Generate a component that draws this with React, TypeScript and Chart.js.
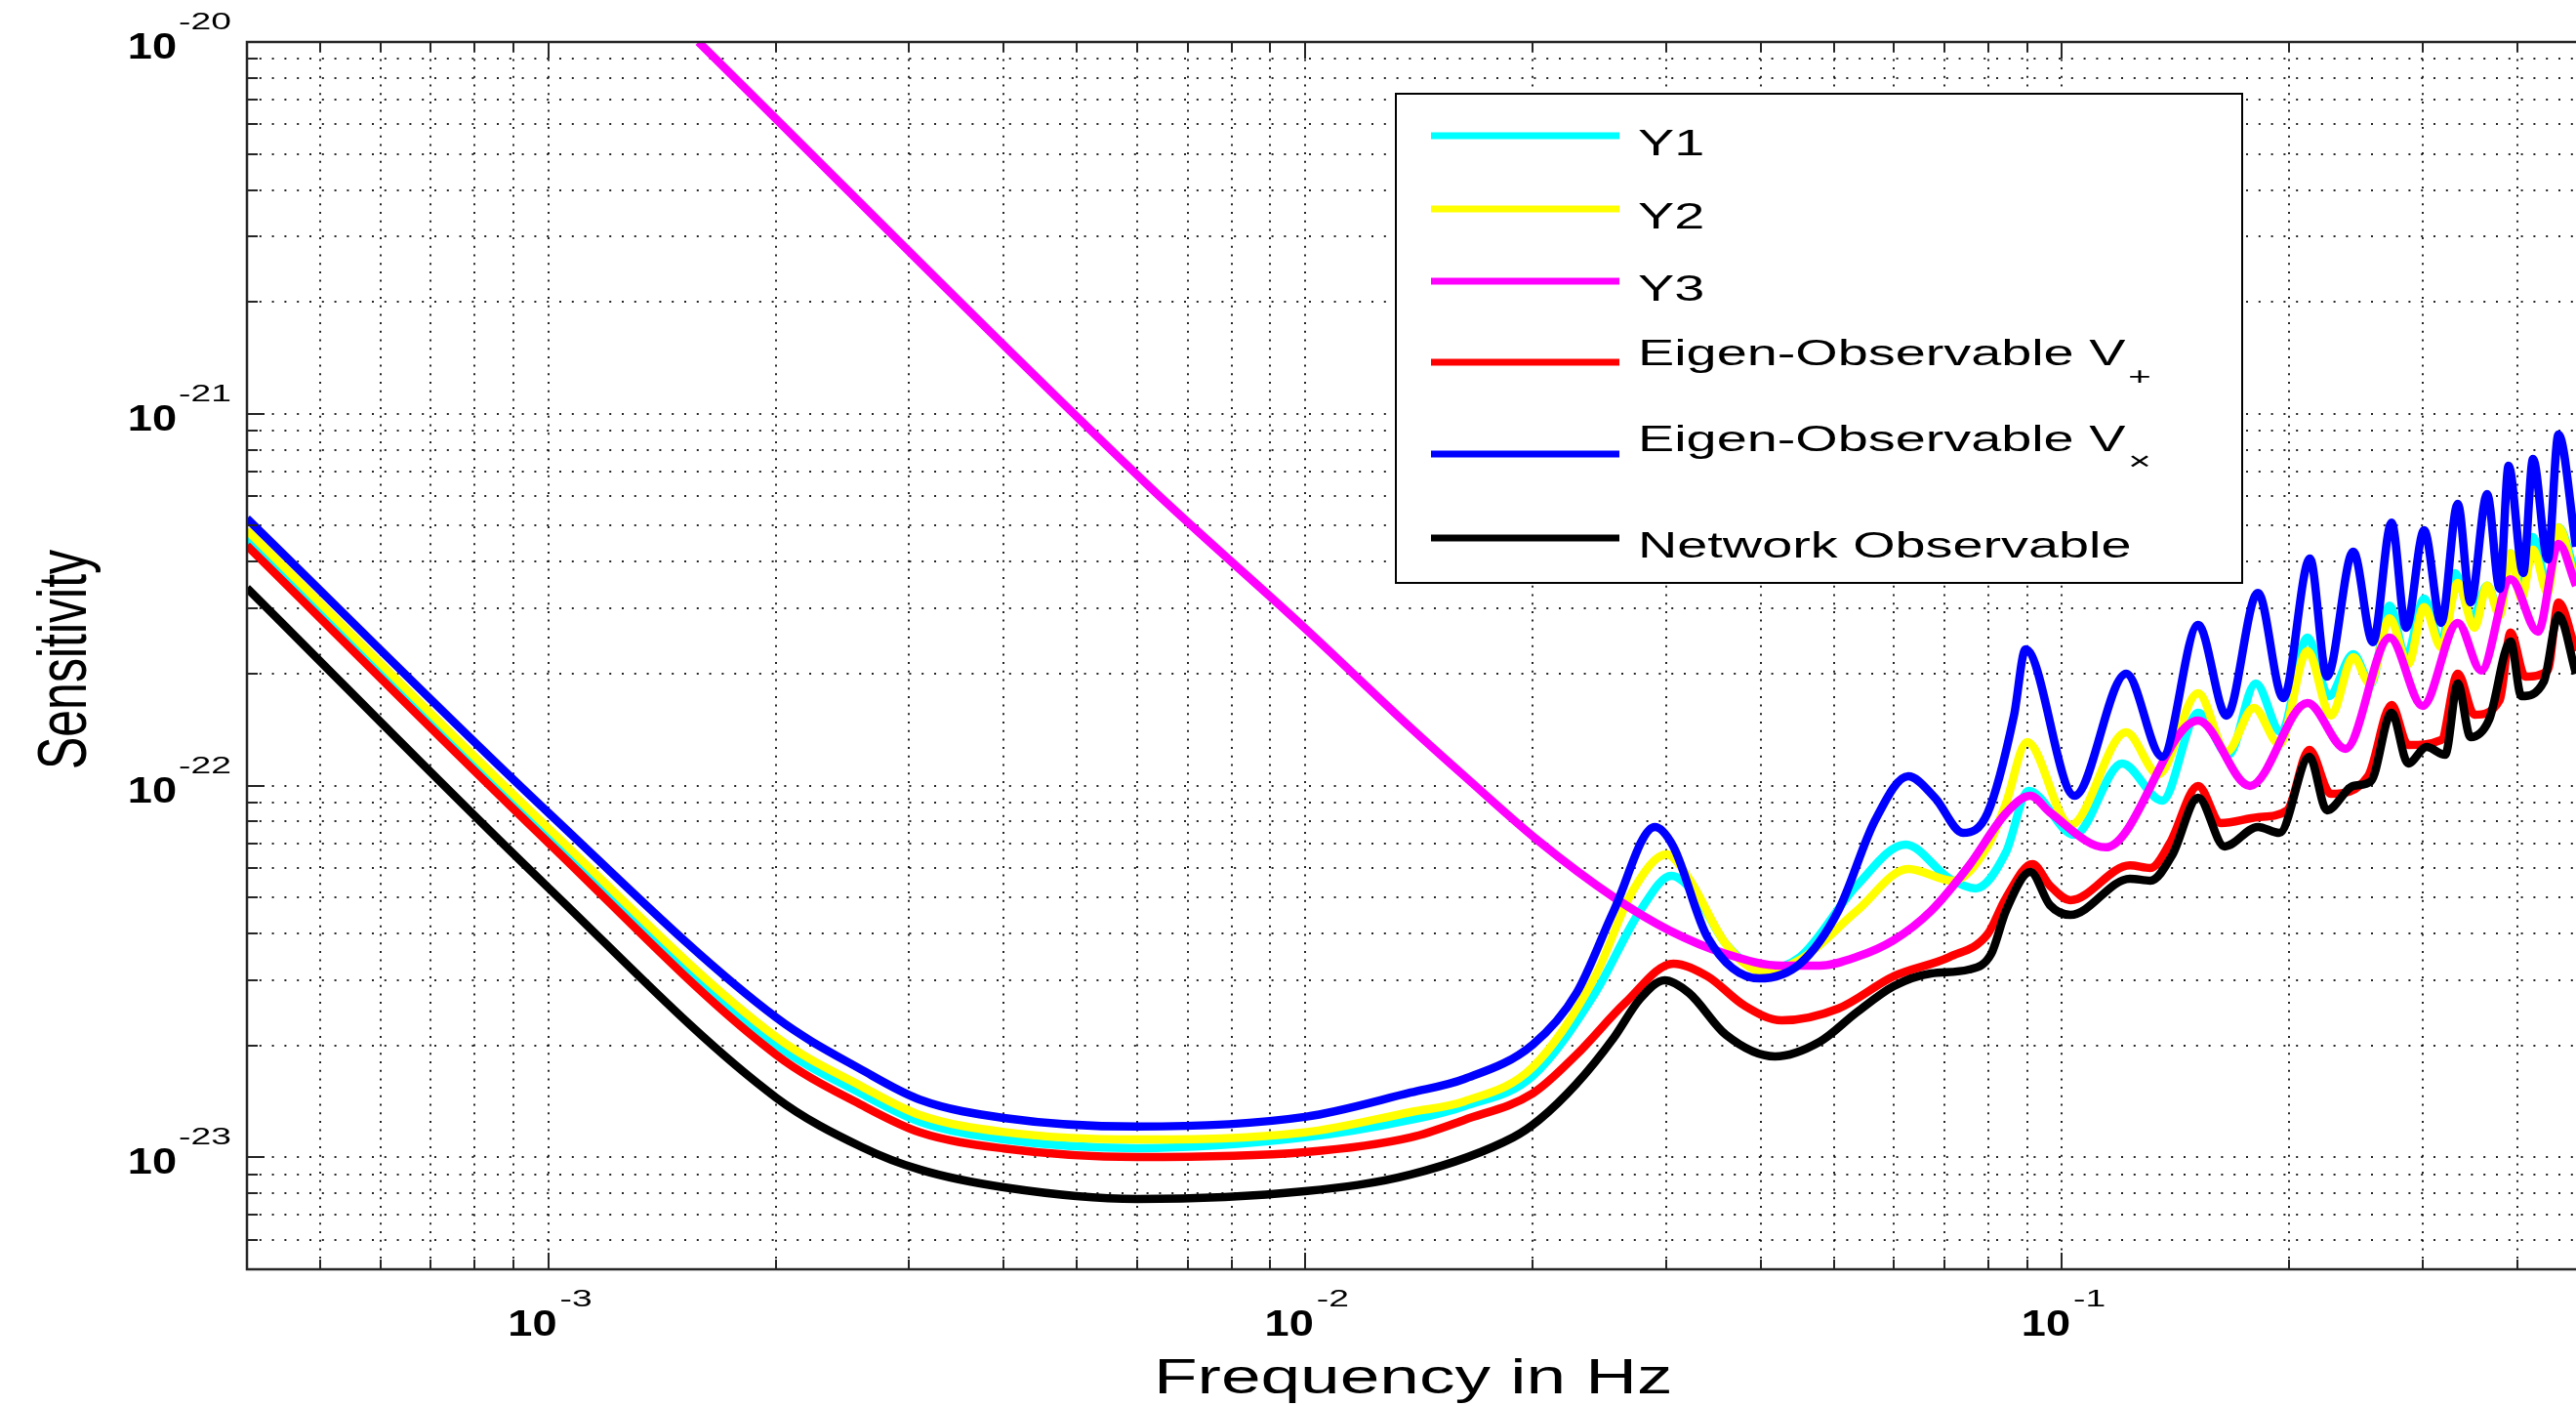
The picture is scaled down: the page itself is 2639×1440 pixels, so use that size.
import React, { useEffect, useRef } from 'react';
import { Chart, registerables } from 'chart.js';

Chart.register(...registerables);

// ---------------- data ----------------
const y1Freq = [4.0e-4, 1.0e-3, 2.0e-3, 2.6e-3, 3.1e-3, 4.0e-3, 6.0e-3, 1.0e-2, 1.38e-2, 1.625e-2, 2.0e-2, 2.419e-2, 2.773e-2, 3.05e-2, 3.285e-2, 3.602e-2, 4.03e-2, 4.512e-2, 5.36e-2, 6.22e-2, 7.11e-2, 7.7e-2, 8.44e-2, 9.04e-2, 0.104, 0.1202, 0.1358, 0.1515, 0.1662, 0.1805, 0.195, 0.2113, 0.2255, 0.2429, 0.2563, 0.2713, 0.2852, 0.3013, 0.3174, 0.331, 0.349, 0.365, 0.3793, 0.392, 0.405, 0.4197, 0.4389, 0.4535, 0.4783];
const y1Sens = [4.63e-22, 7.38e-23, 2.01e-23, 1.48e-23, 1.247e-23, 1.117e-23, 1.059e-23, 1.132e-23, 1.262e-23, 1.373e-23, 1.656e-23, 2.77e-23, 4.6e-23, 5.72e-23, 5.07e-23, 3.745e-23, 3.2e-23, 3.46e-23, 5.38e-23, 6.94e-23, 5.62e-23, 5.29e-23, 6.61e-23, 9.68e-23, 7.37e-23, 1.147e-22, 9.11e-23, 1.57e-22, 1.21e-22, 1.882e-22, 1.39e-22, 2.5e-22, 1.74e-22, 2.257e-22, 1.882e-22, 3.05e-22, 2.216e-22, 3.185e-22, 2.397e-22, 3.73e-22, 2.82e-22, 3.45e-22, 2.93e-22, 4.21e-22, 3.3e-22, 4.66e-22, 3.45e-22, 4.95e-22, 3.66e-22];

const y2Freq = [4.0e-4, 1.0e-3, 2.0e-3, 2.6e-3, 3.1e-3, 4.0e-3, 6.0e-3, 1.0e-2, 1.38e-2, 1.625e-2, 2.0e-2, 2.419e-2, 2.708e-2, 3.006e-2, 3.217e-2, 3.602e-2, 4.03e-2, 4.512e-2, 5.36e-2, 6.27e-2, 7.19e-2, 7.98e-2, 8.44e-2, 9.0e-2, 0.1027, 0.1217, 0.1342, 0.1515, 0.1652, 0.1795, 0.194, 0.2113, 0.2269, 0.2429, 0.2555, 0.2713, 0.287, 0.3013, 0.3174, 0.3338, 0.3512, 0.365, 0.3793, 0.392, 0.405, 0.4197, 0.4389, 0.4535, 0.4783];
const y2Sens = [4.86e-22, 7.69e-23, 2.11e-23, 1.55e-23, 1.3e-23, 1.17e-23, 1.117e-23, 1.167e-23, 1.324e-23, 1.415e-23, 1.748e-23, 3.07e-23, 5.19e-23, 6.53e-23, 5.62e-23, 3.745e-23, 3.16e-23, 3.4e-23, 4.6e-23, 5.97e-23, 5.55e-23, 6.86e-23, 8.95e-23, 1.31e-22, 7.83e-23, 1.39e-22, 1.073e-22, 1.772e-22, 1.233e-22, 1.618e-22, 1.294e-22, 2.3e-22, 1.542e-22, 2.216e-22, 1.882e-22, 2.82e-22, 2.124e-22, 3.02e-22, 2.354e-22, 3.51e-22, 2.657e-22, 3.45e-22, 2.87e-22, 4.21e-22, 3.185e-22, 4.31e-22, 3.3e-22, 4.95e-22, 3.45e-22];

const y3Freq = [1.58e-3, 6.26e-3, 1.0e-2, 1.38e-2, 1.625e-2, 2.04e-2, 2.559e-2, 3.03e-2, 3.602e-2, 4.266e-2, 4.79e-2, 5.36e-2, 6.0e-2, 6.72e-2, 7.54e-2, 8.44e-2, 9.09e-2, 9.65e-2, 0.1143, 0.1515, 0.1774, 0.2113, 0.2372, 0.2713, 0.3, 0.3338, 0.3585, 0.392, 0.426, 0.4535, 0.4783];
const y3Sens = [1.0e-20, 6.31e-22, 2.65e-22, 1.43e-22, 1.06e-22, 7.07e-23, 5.01e-23, 4.08e-23, 3.526e-23, 3.28e-23, 3.28e-23, 3.46e-23, 3.84e-23, 4.6e-23, 6.08e-23, 8.42e-23, 9.39e-23, 8.47e-23, 6.82e-23, 1.496e-22, 9.98e-23, 1.668e-22, 1.256e-22, 2.5e-22, 1.638e-22, 2.74e-22, 2.04e-22, 3.59e-22, 2.594e-22, 4.47e-22, 3.45e-22];

const vPlusFreq = [4.0e-4, 1.0e-3, 2.0e-3, 2.6e-3, 3.1e-3, 4.0e-3, 6.0e-3, 1.0e-2, 1.38e-2, 1.625e-2, 2.0e-2, 2.286e-2, 2.652e-2, 3.068e-2, 3.404e-2, 3.81e-2, 4.266e-2, 5.067e-2, 6.0e-2, 7.11e-2, 7.98e-2, 8.44e-2, 9.15e-2, 9.65e-2, 0.1027, 0.1231, 0.131, 0.139, 0.1515, 0.1623, 0.1817, 0.1986, 0.2125, 0.2269, 0.254, 0.2729, 0.287, 0.3174, 0.3338, 0.3512, 0.3793, 0.392, 0.4098, 0.4389, 0.4535, 0.4783];
const vPlusSens = [4.42e-22, 7.03e-23, 1.89e-23, 1.38e-23, 1.167e-23, 1.057e-23, 1.002e-23, 1.033e-23, 1.132e-23, 1.262e-23, 1.486e-23, 1.891e-23, 2.606e-23, 3.32e-23, 3.07e-23, 2.56e-23, 2.336e-23, 2.513e-23, 3.07e-23, 3.46e-23, 3.98e-23, 4.98e-23, 6.15e-23, 5.38e-23, 4.92e-23, 6.1e-23, 6.0e-23, 7.0e-23, 9.98e-23, 7.93e-23, 8.22e-23, 8.58e-23, 1.248e-22, 9.5e-23, 1.06e-22, 1.648e-22, 1.286e-22, 1.326e-22, 2.0e-22, 1.551e-22, 1.7e-22, 2.58e-22, 1.964e-22, 2.04e-22, 3.11e-22, 2.3e-22];

const vCrossFreq = [4.0e-4, 1.0e-3, 2.0e-3, 2.6e-3, 3.1e-3, 4.0e-3, 6.0e-3, 1.0e-2, 1.38e-2, 1.625e-2, 2.0e-2, 2.286e-2, 2.559e-2, 2.9e-2, 3.068e-2, 3.404e-2, 3.985e-2, 4.512e-2, 5.067e-2, 5.67e-2, 6.27e-2, 6.8e-2, 7.41e-2, 7.98e-2, 8.65e-2, 8.96e-2, 0.104, 0.1217, 0.1358, 0.1515, 0.1652, 0.1817, 0.1963, 0.2129, 0.2242, 0.2429, 0.2578, 0.2729, 0.2852, 0.3013, 0.3174, 0.3338, 0.347, 0.365, 0.3793, 0.3896, 0.4074, 0.4197, 0.4389, 0.4535, 0.4783];
const vCrossSens = [5.23e-22, 8.47e-23, 2.38e-23, 1.718e-23, 1.43e-23, 1.277e-23, 1.21e-23, 1.285e-23, 1.494e-23, 1.626e-23, 2.01e-23, 2.77e-23, 4.6e-23, 7.74e-23, 6.86e-23, 3.91e-23, 3.03e-23, 3.32e-23, 4.6e-23, 8.07e-23, 1.06e-22, 9.28e-23, 7.46e-23, 8.42e-23, 1.542e-22, 2.326e-22, 9.39e-23, 2.0e-22, 1.196e-22, 2.705e-22, 1.542e-22, 3.3e-22, 1.719e-22, 4.08e-22, 1.963e-22, 4.26e-22, 2.43e-22, 5.1e-22, 2.657e-22, 4.86e-22, 2.74e-22, 5.73e-22, 3.11e-22, 6.08e-22, 3.38e-22, 7.25e-22, 3.73e-22, 7.56e-22, 4.06e-22, 8.8e-22, 4.39e-22];

const networkFreq = [4.0e-4, 1.0e-3, 2.0e-3, 2.6e-3, 3.1e-3, 4.0e-3, 6.0e-3, 1.0e-2, 1.38e-2, 1.885e-2, 2.04e-2, 2.286e-2, 2.559e-2, 2.773e-2, 2.988e-2, 3.217e-2, 3.602e-2, 4.18e-2, 4.79e-2, 5.36e-2, 6.0e-2, 6.72e-2, 7.54e-2, 8.07e-2, 8.44e-2, 9.09e-2, 9.65e-2, 0.1027, 0.1231, 0.131, 0.14, 0.1515, 0.1642, 0.1817, 0.194, 0.2125, 0.2242, 0.2429, 0.2563, 0.2729, 0.287, 0.3036, 0.3212, 0.3338, 0.347, 0.3672, 0.392, 0.405, 0.4337, 0.4535, 0.4783];
const networkSens = [3.4e-22, 5.32e-23, 1.449e-23, 1.065e-23, 9.27e-24, 8.31e-24, 7.73e-24, 8.11e-24, 8.99e-24, 1.132e-23, 1.262e-23, 1.578e-23, 2.096e-23, 2.67e-23, 2.995e-23, 2.77e-23, 2.135e-23, 1.868e-23, 2.046e-23, 2.454e-23, 2.888e-23, 3.124e-23, 3.2e-23, 3.526e-23, 4.6e-23, 5.86e-23, 4.77e-23, 4.49e-23, 5.62e-23, 5.55e-23, 6.5e-23, 9.28e-23, 6.86e-23, 7.74e-23, 7.46e-23, 1.196e-22, 8.58e-23, 9.98e-23, 1.028e-22, 1.57e-22, 1.147e-22, 1.27e-22, 1.21e-22, 1.882e-22, 1.35e-22, 1.505e-22, 2.44e-22, 1.74e-22, 1.905e-22, 2.87e-22, 2.0e-22];

const seriesNames = ['Y1', 'Y2', 'Y3', 'Eigen-Observable V', 'Eigen-Observable V', 'Network Observable'];
const seriesSubscripts = ['', '', '', '+', '\u00D7', ''];
const seriesColors = ['#00ffff', '#ffff00', '#ff00ff', '#ff0000', '#0000ff', '#000000'];

// axis ranges and ticks
const xMin = 4e-4;
const xMax = 0.4783;
const yMin = 5e-24;
const yMax = 1e-20;
const xMajorTicks = [1e-3, 1e-2, 1e-1];
const xMinorTicks = [5e-4, 6e-4, 7e-4, 8e-4, 9e-4, 2e-3, 3e-3, 4e-3, 5e-3, 6e-3, 7e-3, 8e-3, 9e-3, 2e-2, 3e-2, 4e-2, 5e-2, 6e-2, 7e-2, 8e-2, 9e-2, 2e-1, 3e-1, 4e-1];
const yMajorTicks = [1e-23, 1e-22, 1e-21, 1e-20];
const yMinorTicks = [6e-24, 7e-24, 8e-24, 9e-24, 2e-23, 3e-23, 4e-23, 5e-23, 6e-23, 7e-23, 8e-23, 9e-23, 2e-22, 3e-22, 4e-22, 5e-22, 6e-22, 7e-22, 8e-22, 9e-22, 2e-21, 3e-21, 4e-21, 5e-21, 6e-21, 7e-21, 8e-21, 9e-21];
const xTickBase = ['10', '10', '10'];
const xTickExponents = ['-3', '-2', '-1'];
const yTickBase = ['10', '10', '10', '10'];
const yTickExponents = ['-23', '-22', '-21', '-20'];
const xAxisTitle = 'Frequency in Hz';
const yAxisTitle = 'Sensitivity';

// ---------------- drawing helpers ----------------
const FONT = "'Liberation Sans', Arial, Helvetica, sans-serif";

function stretchText(ctx: CanvasRenderingContext2D, text: string, x: number, y: number, font: string, sx: number, align: CanvasTextAlign) {
  ctx.save();
  ctx.translate(x, y);
  ctx.scale(sx, 1);
  ctx.font = font;
  ctx.textAlign = align;
  ctx.textBaseline = 'alphabetic';
  ctx.fillText(text, 0, 0);
  ctx.restore();
}

const decorPlugin = {
  id: 'matlabDecor',
  beforeDatasetsDraw(chart: any) {
    const { ctx, chartArea: a } = chart;
    const xs = chart.scales.x;
    const ys = chart.scales.y;
    ctx.save();
    ctx.strokeStyle = 'rgba(0,0,0,0.85)';
    ctx.lineWidth = 2;
    ctx.lineCap = 'butt';
    ctx.setLineDash([2, 6.7]);
    for (const v of [...xMajorTicks, ...xMinorTicks]) {
      const px = Math.round(xs.getPixelForValue(v));
      ctx.beginPath();
      ctx.moveTo(px, a.top);
      ctx.lineTo(px, a.bottom);
      ctx.stroke();
    }
    ctx.setLineDash([2, 10.8]);
    for (const v of [...yMajorTicks, ...yMinorTicks]) {
      const py = Math.round(ys.getPixelForValue(v));
      ctx.beginPath();
      ctx.moveTo(a.left, py);
      ctx.lineTo(a.right, py);
      ctx.stroke();
    }
    ctx.restore();
  },
  afterDatasetsDraw(chart: any) {
    const { ctx, chartArea: a } = chart;
    const xs = chart.scales.x;
    const ys = chart.scales.y;
    ctx.save();
    ctx.setLineDash([]);
    // frame
    ctx.strokeStyle = '#262626';
    ctx.lineWidth = 2.5;
    ctx.beginPath();
    ctx.moveTo(a.right, a.top);
    ctx.lineTo(a.left, a.top);
    ctx.lineTo(a.left, a.bottom);
    ctx.lineTo(a.right, a.bottom);
    ctx.stroke();
    // tick marks
    ctx.lineWidth = 2;
    const xt = [...xMajorTicks.map((v) => [v, 17]), ...xMinorTicks.map((v) => [v, 10])];
    for (const [v, len] of xt) {
      const px = Math.round(xs.getPixelForValue(v));
      ctx.beginPath();
      ctx.moveTo(px, a.bottom);
      ctx.lineTo(px, a.bottom - len);
      ctx.moveTo(px, a.top);
      ctx.lineTo(px, a.top + len);
      ctx.stroke();
    }
    const yt = [...yMajorTicks.map((v) => [v, 18]), ...yMinorTicks.map((v) => [v, 11])];
    for (const [v, len] of yt) {
      const py = Math.round(ys.getPixelForValue(v));
      ctx.beginPath();
      ctx.moveTo(a.left, py);
      ctx.lineTo(a.left + len, py);
      ctx.stroke();
    }
    // tick labels
    ctx.fillStyle = '#000';
    xMajorTicks.forEach((v, i) => {
      const px = xs.getPixelForValue(v);
      stretchText(ctx, xTickBase[i], px + 9, a.bottom + 68, `bold 37px ${FONT}`, 1.22, 'right');
      stretchText(ctx, xTickExponents[i], px + 12, a.bottom + 38, `23px ${FONT}`, 1.62, 'left');
    });
    yMajorTicks.forEach((v, i) => {
      const py = ys.getPixelForValue(v);
      stretchText(ctx, yTickBase[i], a.left - 72, py + 17, `bold 37px ${FONT}`, 1.22, 'right');
      stretchText(ctx, yTickExponents[i], a.left - 70, py - 13, `23px ${FONT}`, 1.62, 'left');
    });
    // axis titles
    stretchText(ctx, xAxisTitle, 1182, a.bottom + 127, `50px ${FONT}`, 1.46, 'left');
    ctx.save();
    ctx.translate(88, (a.top + a.bottom) / 2 + 4);
    ctx.rotate(-Math.PI / 2);
    ctx.scale(1, 1.4);
    ctx.font = `50px ${FONT}`;
    ctx.textAlign = 'center';
    ctx.textBaseline = 'alphabetic';
    ctx.fillText(yAxisTitle, 0, 0);
    ctx.restore();

    // legend
    const box = { x: 1430, y: 96, w: 867, h: 501 };
    ctx.fillStyle = '#ffffff';
    ctx.fillRect(box.x, box.y, box.w, box.h);
    ctx.strokeStyle = '#000';
    ctx.lineWidth = 2;
    ctx.strokeRect(box.x, box.y, box.w, box.h);
    const lineYs = [139, 214, 288, 371, 465, 551];
    const textYs = [159, 234, 308, 374, 462, 571];
    const subYs = [0, 0, 0, 394, 481, 0];
    const sx = 1.55;
    seriesNames.forEach((name, i) => {
      ctx.strokeStyle = seriesColors[i];
      ctx.lineWidth = 7;
      ctx.lineCap = 'butt';
      ctx.beginPath();
      ctx.moveTo(1466, lineYs[i]);
      ctx.lineTo(1659, lineYs[i]);
      ctx.stroke();
      ctx.fillStyle = '#000';
      stretchText(ctx, name, 1678, textYs[i], `36px ${FONT}`, sx, 'left');
      if (seriesSubscripts[i]) {
        ctx.font = `36px ${FONT}`;
        const w = ctx.measureText(name).width * sx;
        stretchText(ctx, seriesSubscripts[i], 1678 + w + 3, subYs[i], `26px ${FONT}`, sx, 'left');
      }
    });
    ctx.restore();
  },
};

const pts = (f: number[], s: number[]) => f.map((v, i) => ({ x: v, y: s[i] }));

export default function App() {
  const ref = useRef<HTMLCanvasElement | null>(null);
  useEffect(() => {
    if (!ref.current) return;
    const series = [
      pts(y1Freq, y1Sens),
      pts(y2Freq, y2Sens),
      pts(y3Freq, y3Sens),
      pts(vPlusFreq, vPlusSens),
      pts(vCrossFreq, vCrossSens),
      pts(networkFreq, networkSens),
    ];
    const chart = new Chart(ref.current, {
      type: 'line',
      data: {
        datasets: series.map((d, i) => ({
          label: seriesNames[i] + seriesSubscripts[i],
          data: d,
          borderColor: seriesColors[i],
          backgroundColor: seriesColors[i],
          borderWidth: 8.5,
          pointRadius: 0,
          fill: false,
          cubicInterpolationMode: 'monotone' as const,
          borderCapStyle: 'butt' as const,
          borderJoinStyle: 'round' as const,
          clip: 0,
          order: 5 - i,
        })),
      },
      options: {
        responsive: false,
        animation: false,
        devicePixelRatio: 1,
        layout: { padding: { left: 253, top: 43, right: 0, bottom: 140 } },
        plugins: { legend: { display: false }, tooltip: { enabled: false } },
        events: [],
        scales: {
          x: { type: 'logarithmic', min: xMin, max: xMax, bounds: 'data', display: false },
          y: { type: 'logarithmic', min: yMin, max: yMax, bounds: 'data', display: false },
        },
      },
      plugins: [decorPlugin],
    } as any);
    return () => chart.destroy();
  }, []);
  return (
    <div style={{ position: 'fixed', left: 0, top: 0, width: 2639, height: 1440, overflow: 'hidden', background: '#fff' }}>
      <canvas ref={ref} width={2639} height={1440} style={{ display: 'block' }} />
    </div>
  );
}
